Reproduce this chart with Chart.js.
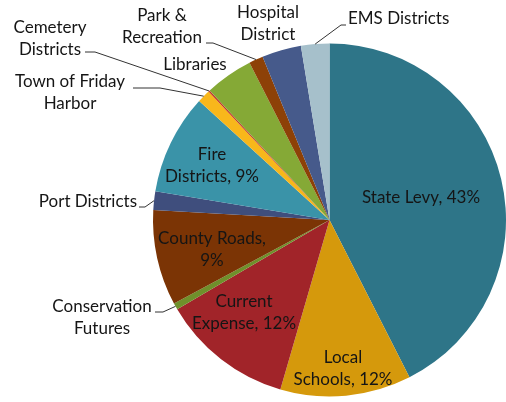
<!DOCTYPE html>
<html>
<head>
<meta charset="utf-8">
<script src="https://cdn.jsdelivr.net/npm/chart.js@4.4.1/dist/chart.umd.min.js"></script>
<style>
  html, body { margin: 0; padding: 0; background: #fff; }
  #wrap { width: 506px; height: 402px; position: relative; }
</style>
</head>
<body>
<div id="wrap"><canvas id="levy-chart" width="506" height="402"></canvas></div>
<script>
// Property tax levy shares (percent of total), clockwise from 12 o'clock
var categories = [
  "State Levy", "Local Schools", "Current Expense", "Conservation Futures",
  "County Roads", "Port Districts", "Fire Districts", "Town of Friday Harbor",
  "Cemetery Districts", "Libraries", "Park & Recreation", "Hospital District",
  "EMS Districts"
];
var shares = [42.6, 12.0, 12.1, 0.6, 8.75, 1.7, 9.2, 1.2, 0.15, 4.4, 1.3, 3.6, 2.6];
var labelLines = [
  ["State Levy, 43%"], ["Local", "Schools, 12%"], ["Current", "Expense, 12%"],
  ["Conservation", "Futures"], ["County Roads,", "9%"], ["Port Districts"],
  ["Fire", "Districts, 9%"], ["Town of Friday", "Harbor"], ["Cemetery", "Districts"],
  ["Libraries"], ["Park &", "Recreation"], ["Hospital", "District"], ["EMS Districts"]
];

var sliceColors = [
  "#2e7588", "#d5990c", "#a12429", "#6f902b", "#7b3405", "#3f4e7d", "#3a93a8",
  "#f8b71b", "#c2392d", "#85a936", "#8d4107", "#465a8b", "#a6c0cb"
];

// Label placement: text anchor (x, y of first line), alignment, optional leader elbow/end
var labelLayout = [
  { x: 421, y: 198, align: "center" },
  { x: 343, y: 358, align: "center" },
  { x: 244, y: 302, align: "center" },
  { x: 102, y: 307, align: "center", leader: [[163, 312], [155, 312]] },
  { x: 212, y: 239, align: "center" },
  { x: 137, y: 202, align: "right", leader: [[145, 207], [139, 207]] },
  { x: 212, y: 155, align: "center" },
  { x: 70, y: 82, align: "center", leader: [[160, 88], [133, 88]] },
  { x: 50, y: 28, align: "center", leader: [[95, 52], [85, 52]] },
  { x: 195, y: 65, align: "center" },
  { x: 162, y: 16, align: "center", leader: [[213, 43], [206, 43]] },
  { x: 268, y: 13, align: "center" },
  { x: 348, y: 19, align: "left", leader: [[341, 25], [346, 25]] }
];

var LINE_H = 21.5;

var labelPlugin = {
  id: "levyLabels",
  afterDatasetsDraw: function (chart) {
    var ctx = chart.ctx;
    var arcs = chart.getDatasetMeta(0).data;
    ctx.save();
    ctx.font = "17px Lato, 'Open Sans', sans-serif";
    ctx.fillStyle = "#151515";
    ctx.textBaseline = "middle";
    arcs.forEach(function (arc, i) {
      var lay = labelLayout[i];
      if (!lay) return;
      if (lay.leader) {
        var mid = (arc.startAngle + arc.endAngle) / 2;
        var sx = arc.x + Math.cos(mid) * arc.outerRadius;
        var sy = arc.y + Math.sin(mid) * arc.outerRadius;
        ctx.strokeStyle = "#333";
        ctx.lineWidth = 1;
        ctx.beginPath();
        ctx.moveTo(sx, sy);
        lay.leader.forEach(function (p) { ctx.lineTo(p[0], p[1]); });
        ctx.stroke();
      }
      ctx.textAlign = lay.align;
      labelLines[i].forEach(function (line, k) {
        ctx.fillText(line, lay.x, lay.y + k * LINE_H);
      });
    });
    ctx.restore();
  }
};

new Chart(document.getElementById("levy-chart"), {
  type: "pie",
  data: {
    labels: categories,
    datasets: [{
      data: shares,
      backgroundColor: sliceColors,
      borderWidth: 0
    }]
  },
  options: {
    responsive: false,
    animation: false,
    layout: { padding: { left: 153, right: 0, top: 42, bottom: 4 } },
    plugins: {
      legend: { display: false },
      tooltip: { enabled: false }
    }
  },
  plugins: [labelPlugin]
});
</script>
</body>
</html>
